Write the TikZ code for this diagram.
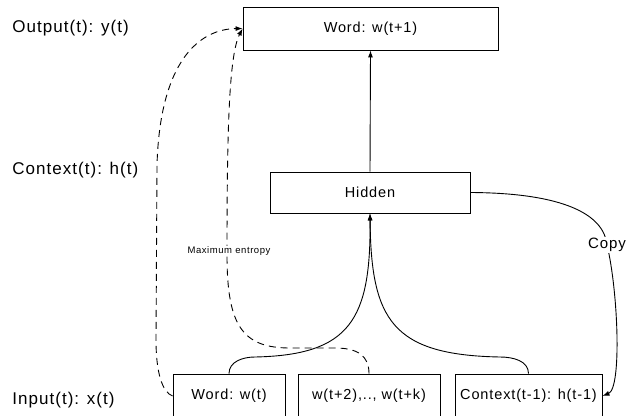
\documentclass[tikz,border=0pt]{standalone}
\usepackage{fontspec}
\setmainfont{Liberation Sans}[LetterSpace=6]
\usetikzlibrary{arrows.meta,positioning}

\begin{document}
\begin{tikzpicture}[>={Latex[length=7pt,width=5pt]}, x=1pt, y=-1pt, line width=0.9pt,
  box/.style={draw, rectangle, inner sep=0pt, font=\fontsize{14.5}{17}\selectfont},
  side/.style={anchor=west, inner sep=0pt, font=\fontsize{17}{20}\selectfont},
  lbl/.style={fill=white, inner sep=1pt}]

\useasboundingbox (0,0) rectangle (634,415);

% boxes
\node[box, minimum width=255pt, minimum height=43pt] (out) at (370.5,28.5) {Word: w(t+1)};
\node[box, minimum width=200pt, minimum height=41pt] (hid) at (370,192.5) {Hidden};
\node[box, minimum width=112pt, minimum height=44pt] (wt) at (229,396) {Word: w(t)};
\node[box, minimum width=142pt, minimum height=44pt] (mid) at (369,396) {w(t+2),.., w(t+k)};
\node[box, minimum width=147pt, minimum height=44pt] (ctx) at (528.5,396) {Context(t-1): h(t-1)};

% side labels
\node[side] (lout) at (12,28) {Output(t): y(t)};
\node[side] (lctx) at (12,170) {Context(t): h(t)};
\node[side] (lin) at (12,400) {Input(t): x(t)};

% solid connectors
\draw[->] (hid.north) -- (out.south);
\coordinate (jl) at (255,357);
\coordinate (jr) at (500,357);
\draw[->] (wt.north) to[out=90,in=180] (jl) .. controls (350,355) and (371,320) .. (hid.south);
\draw[->] (ctx.north) to[out=90,in=0] (jr) .. controls (392,355) and (371,320) .. (hid.south);

% maximum entropy (dashed)
\coordinate (dm) at (335,348);
\coordinate (me) at (227,255);
\draw[->, dash pattern=on 7pt off 5pt] (mid.north) .. controls (369,356) and (358,348) .. (dm)
  -- (290,348) .. controls (242,348) and (227,325) .. (me)
  .. controls (227,130) and (229,55) .. (out.west);
\coordinate (dl) at (156,340);
\draw[->, dash pattern=on 7pt off 5pt] (wt.west) .. controls (162,392) and (156,372) .. (dl)
  -- (157,165) .. controls (160,60) and (200,29) .. (out.west);
\node[lbl, font=\fontsize{9.5}{11}\selectfont] (ment) at (229,251) {Maximum entropy};

% copy
\coordinate (cp) at (607,245);
\draw[->] (hid.east) .. controls (565,193) and (604,215) .. (cp)
  .. controls (618,290) and (622,388) .. (ctx.east);
\node[lbl, font=\fontsize{15}{17}\selectfont] (copy) at (cp) {Copy};

\end{tikzpicture}
\end{document}
